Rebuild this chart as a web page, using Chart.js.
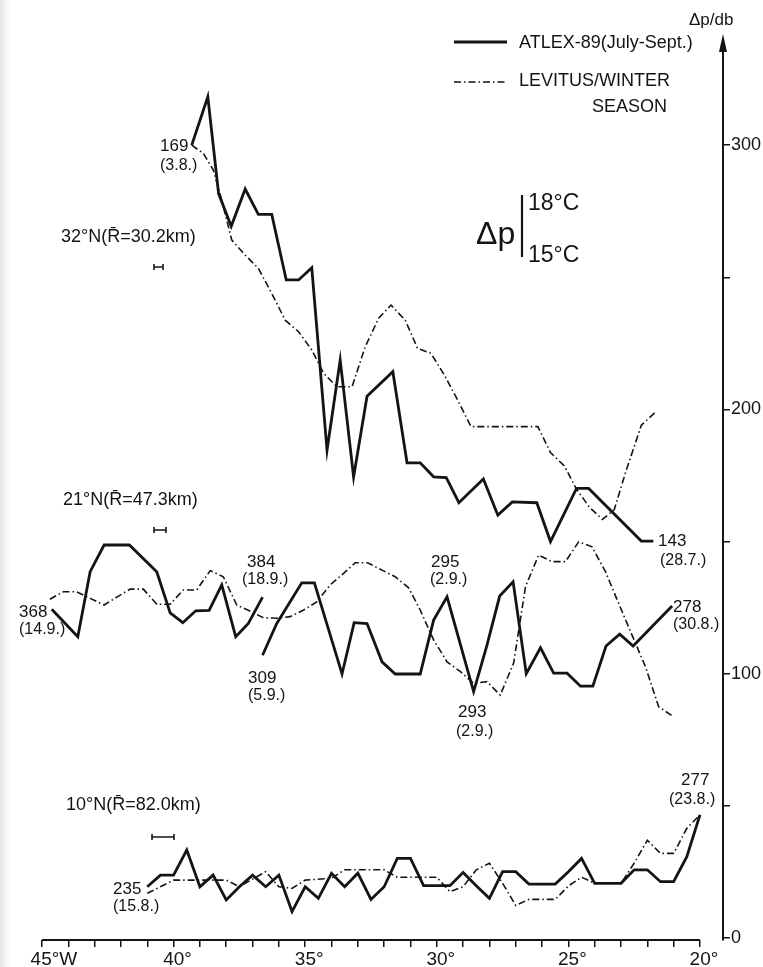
<!DOCTYPE html>
<html lang="en">
<head>
<meta charset="UTF-8">
<title>Δp 15°C-18°C along 32°N, 21°N, 10°N</title>
<style>
    html, body {
        margin: 0;
        padding: 0;
        /* faint grey strip on the left edge, as on the scanned original */
        background: linear-gradient(to right, #e6e6e6 0px, #f6f6f6 6px, #fff 12px);
    }
    .chart-wrap {
        position: relative;
        width: 763px;
        height: 967px;
    }
</style>
</head>
<body>
<div class="chart-wrap">
    <canvas id="chart" width="763" height="967"></canvas>
</div>

<script src="https://cdn.jsdelivr.net/npm/chart.js"></script>
<script>
    // Values: longitude in degrees west, Δp in db.

    // 32°N
    const lon32 = [39.31, 38.70, 38.29, 37.81, 37.28, 36.78, 36.27, 35.72, 35.25, 34.75, 34.17, 33.67, 33.16, 32.65,
                   31.67, 31.13, 30.63, 30.12, 29.64, 29.16, 28.23, 27.68, 27.13, 26.20, 25.68, 24.69, 24.23, 22.23, 21.77];
    const atlex32 = [300, 318.3, 281.7, 269.3, 283.4, 273.8, 273.8, 249, 249, 253.6, 184.6, 218.7, 174.5, 205,
                     214.3, 179.8, 179.8, 174.5, 174.2, 164.7, 173.7, 160, 165, 164.7, 150, 170.1, 170.1, 150.2, 150.2];
    const lonLev32 = [39.31, 38.87, 38.49, 38.17, 37.79, 37.28, 36.78, 36.27, 35.76, 35.25, 34.75, 34.30, 33.80, 33.22,
                      32.72, 32.21, 31.74, 31.20, 30.73, 30.22, 29.71, 29.21, 28.70, 26.16, 25.68, 25.15, 24.70, 24.20,
                      23.71, 23.26, 22.80, 22.23, 21.68];
    const levitus32 = [300, 296.9, 290.6, 279.2, 264.1, 258.4, 253.4, 243.9, 233.8, 229.4, 222.5, 213.7, 208.6, 208.6,
                       223.7, 234.5, 239.5, 233.8, 223.1, 221.2, 213, 203.6, 193.5, 193.5, 183.7, 178.6, 170, 163,
                       158.4, 162, 177, 194, 199.1];

    // 21°N (ATLEX section comes in two legs)
    const lon21a = [44.63, 43.64, 43.17, 42.64, 41.68, 40.64, 40.13, 39.65, 39.16, 38.65, 38.17, 37.64, 37.16, 36.62];
    const atlex21a = [124.4, 114, 138.6, 148.7, 148.7, 138.6, 123, 119.3, 123.8, 124, 133.6, 114, 119, 129];
    const lon21b = [36.62, 36.08, 35.13, 34.65, 33.60, 33.14, 32.65, 32.08, 31.58, 30.63, 30.12, 29.61, 28.60, 28.09,
                    27.61, 27.10, 26.60, 26.06, 25.56, 25.05, 24.54, 24.07, 23.57, 23.05, 22.54, 21.06];
    const atlex21b = [107, 119, 134.4, 134.4, 99.9, 119.3, 119, 104.5, 99.9, 99.9, 120.3, 129.1, 93.2, 110.9,
                      129.4, 134.8, 100, 109.8, 100.2, 100.2, 95.3, 95.3, 110.5, 115, 110.5, 125.6];
    const lonLev21 = [44.70, 44.19, 43.68, 43.17, 42.64, 42.14, 41.65, 41.15, 40.64, 40.13, 39.63, 39.12, 38.61, 38.11,
                      37.60, 37.10, 36.59, 36.08, 35.57, 35.06, 34.56, 34.05, 33.54, 33.10, 32.63, 32.08, 31.58, 31.07,
                      30.63, 30.12, 29.61, 29.10, 28.60, 28.09, 27.59, 27.08, 26.63, 26.13, 25.62, 25.11, 24.61, 24.10,
                      23.59, 23.09, 22.58, 22.07, 21.57, 21.00];
    const levitus21 = [128.2, 131, 131, 128.5, 126, 129.1, 132, 132, 126.3, 126.3, 131.7, 131.7, 139, 136.7,
                       126, 123.7, 121.2, 121, 121.6, 124.1, 127.2, 133.6, 138, 142, 142, 139.2, 136.7, 132.5,
                       124.1, 112.8, 104.5, 100.8, 96.4, 97, 91.9, 104, 132.9, 144.9, 142.4, 142.4, 149.9, 148,
                       138.6, 126.6, 114.6, 102.6, 87.5, 83.7];

    // 10°N
    const lon10 = [41.0, 40.5, 40.0, 39.5, 39.0, 38.5, 38.0, 37.5, 37.0, 36.5, 36.0, 35.5, 35.0, 34.5, 34.0, 33.5,
                   33.0, 32.5, 32.0, 31.5, 31.0, 30.5, 29.5, 29.0, 28.5, 28.0, 27.5, 27.0, 26.5, 25.5, 25.0, 24.5,
                   24.0, 23.0, 22.5, 22.0, 21.5, 21.0, 20.5, 20.0];
    const atlex10 = [19.4, 23.8, 23.8, 33.3, 19.4, 23.8, 14.4, 19.4, 23.8, 19.4, 23.8, 10.0, 19.4, 15.0, 24.5, 19.4,
                     24.5, 14.6, 19.4, 30.1, 30.1, 19.8, 19.8, 24.8, 19.8, 15.0, 25.1, 25.1, 20.4, 20.4, 25.1, 30.1,
                     20.7, 20.7, 25.8, 25.8, 21.3, 21.3, 30.8, 46.6];
    const lonLev10 = [41.0, 40.0, 38.0, 37.5, 36.5, 36.0, 35.5, 35.0, 34.0, 33.5, 32.0, 31.5, 30.0, 29.5, 29.0, 28.5,
                      28.0, 27.5, 27.0, 26.5, 25.5, 25.0, 24.5, 24.0, 23.0, 22.5, 22.0, 21.5, 21.0, 20.5, 20.0];
    const levitus10 = [16.9, 21.9, 21.9, 19.4, 25.1, 19.4, 18.8, 21.9, 22.6, 25.8, 25.8, 23.0, 23.0, 17.5, 19.4, 25.8,
                       28.3, 20.7, 12.3, 14.6, 14.6, 19.7, 23.0, 20.7, 20.7, 28.3, 37.0, 32.0, 32.0, 41.5, 46.6];

    // Axis ticks
    const xTickValues = [45, 44, 43, 42, 41, 40, 39, 38, 37, 36, 35, 34, 33, 32, 31, 30, 29, 28, 27, 26, 25, 24, 23, 22, 21, 20];
    const yTickValues = [0, 50, 100, 150, 200, 250, 300];

    const INK = '#141414';
    const FONT = '"Liberation Sans", Arial, sans-serif';
    const DASH_DOT = [7, 3, 1.5, 3];

    // Pair up longitude and value arrays for Chart.js.
    function pts(lons, vals) {
        return lons.map((lon, i) => ({ x: lon, y: vals[i] }));
    }

    const atlexStyle = { borderColor: INK, borderWidth: 2.8, pointRadius: 0, tension: 0, fill: false };
    const levitusStyle = { borderColor: INK, borderWidth: 1.6, borderDash: DASH_DOT, pointRadius: 0, tension: 0, fill: false };

    // Annotations drawn on top: station numbers, dates, section titles, legend.
    const notes = [
        ['169', 160, 146, 17], ['(3.8.)', 160, 166, 16],
        ['32°N(R\u0304=30.2km)', 61, 237, 18],
        ['21°N(R\u0304=47.3km)', 63, 500, 18],
        ['10°N(R\u0304=82.0km)', 66, 805, 18],
        ['143', 658, 541, 17], ['(28.7.)', 660, 561, 16],
        ['384', 247, 562, 17], ['(18.9.)', 242, 580, 16],
        ['368', 19, 612, 17], ['(14.9.)', 19, 630, 16],
        ['309', 248, 678, 17], ['(5.9.)', 248, 696, 16],
        ['295', 431, 562, 17], ['(2.9.)', 430, 580, 16],
        ['293', 458, 712, 17], ['(2.9.)', 456, 732, 16],
        ['278', 673, 607, 17], ['(30.8.)', 673, 625, 16],
        ['277', 681, 780, 17], ['(23.8.)', 669, 800, 16],
        ['235', 113, 889, 17], ['(15.8.)', 113, 907, 16],
        ['Δp/db', 689, 20, 17],
        ['ATLEX-89(July-Sept.)', 519, 43, 18],
        ['LEVITUS/WINTER', 519, 81, 18],
        ['Δp', 476, 235, 32],
        ['18°C', 528, 204, 23],
        ['15°C', 528, 256, 23]
    ];
    const scaleBars = [[154, 163, 267], [154, 166, 530], [152, 174, 837]];

    const overlay = {
        id: 'overlay',
        afterDraw(chart) {
            const { ctx, scales: { x, y } } = chart;
            ctx.save();
            ctx.strokeStyle = INK;
            ctx.fillStyle = INK;

            // x axis line, only from 45°W to 20°W
            ctx.lineWidth = 2;
            ctx.beginPath();
            ctx.moveTo(x.getPixelForValue(45), x.top);
            ctx.lineTo(x.getPixelForValue(20), x.top);
            ctx.stroke();

            // arrow head on the Δp axis
            const ax = y.left;
            ctx.beginPath();
            ctx.moveTo(ax, 34);
            ctx.lineTo(ax - 4, 52);
            ctx.lineTo(ax + 4, 52);
            ctx.closePath();
            ctx.fill();

            // horizontal resolution bars
            ctx.lineWidth = 1.6;
            scaleBars.forEach(([x1, x2, yy]) => {
                ctx.beginPath();
                ctx.moveTo(x1, yy); ctx.lineTo(x2, yy);
                ctx.moveTo(x1, yy - 3); ctx.lineTo(x1, yy + 3);
                ctx.moveTo(x2, yy - 3); ctx.lineTo(x2, yy + 3);
                ctx.stroke();
            });

            // legend samples
            ctx.lineWidth = 2.8;
            ctx.beginPath();
            ctx.moveTo(454, 42); ctx.lineTo(507, 42);
            ctx.stroke();
            ctx.lineWidth = 1.6;
            ctx.setLineDash(DASH_DOT);
            ctx.beginPath();
            ctx.moveTo(454, 82); ctx.lineTo(507, 82);
            ctx.stroke();
            ctx.setLineDash([]);

            // bar of the Δp symbol
            ctx.lineWidth = 2.2;
            ctx.beginPath();
            ctx.moveTo(522, 195); ctx.lineTo(522, 257);
            ctx.stroke();

            ctx.textBaseline = 'middle';
            ctx.textAlign = 'left';
            notes.forEach(([s, tx, ty, size]) => {
                ctx.font = size + 'px ' + FONT;
                ctx.fillText(s, tx, ty);
            });
            ctx.font = '18px ' + FONT;
            ctx.textAlign = 'right';
            ctx.fillText('SEASON', 667, 107);
            ctx.restore();
        }
    };

    new Chart(document.getElementById('chart'), {
        type: 'line',
        data: {
            datasets: [
                { label: 'ATLEX-89 32N', data: pts(lon32, atlex32), ...atlexStyle },
                { label: 'Levitus 32N', data: pts(lonLev32, levitus32), ...levitusStyle },
                { label: 'ATLEX-89 21N a', data: pts(lon21a, atlex21a), ...atlexStyle },
                { label: 'ATLEX-89 21N b', data: pts(lon21b, atlex21b), ...atlexStyle },
                { label: 'Levitus 21N', data: pts(lonLev21, levitus21), ...levitusStyle },
                { label: 'ATLEX-89 10N', data: pts(lon10, atlex10), ...atlexStyle },
                { label: 'Levitus 10N', data: pts(lonLev10, levitus10), ...levitusStyle }
            ]
        },
        options: {
            responsive: false,
            animation: false,
            devicePixelRatio: 1,
            layout: { padding: { left: 42, top: 40, right: 0, bottom: 0 } },
            plugins: {
                legend: { display: false },
                tooltip: { enabled: false }
            },
            scales: {
                x: {
                    type: 'linear',
                    reverse: true,
                    min: 19.125,
                    max: 45,
                    afterBuildTicks: s => { s.ticks = xTickValues.map(v => ({ value: v })); },
                    afterFit: s => { s.height = 27; },
                    border: { display: false },
                    grid: { drawOnChartArea: false, tickLength: 7, color: INK, lineWidth: 1.5 },
                    ticks: {
                        autoSkip: false,
                        maxRotation: 0,
                        padding: 1,
                        labelOffset: 4,
                        color: INK,
                        font: { family: FONT, size: 19 },
                        callback: v => v === 45 ? '   45°W' : (v % 5 === 0 ? v + '°' : '')
                    }
                },
                y: {
                    type: 'linear',
                    position: 'right',
                    min: -0.76,
                    max: 339.8,
                    afterBuildTicks: s => { s.ticks = yTickValues.map(v => ({ value: v })); },
                    afterFit: s => { s.width = 40; },
                    border: { display: true, color: INK, width: 2 },
                    grid: { drawOnChartArea: false, tickLength: 7, color: INK, lineWidth: 1.5 },
                    ticks: {
                        padding: 1,
                        color: INK,
                        font: { family: FONT, size: 18 },
                        callback: v => v % 100 === 0 ? String(v) : ''
                    }
                }
            }
        },
        plugins: [overlay]
    });
</script>
</body>
</html>
